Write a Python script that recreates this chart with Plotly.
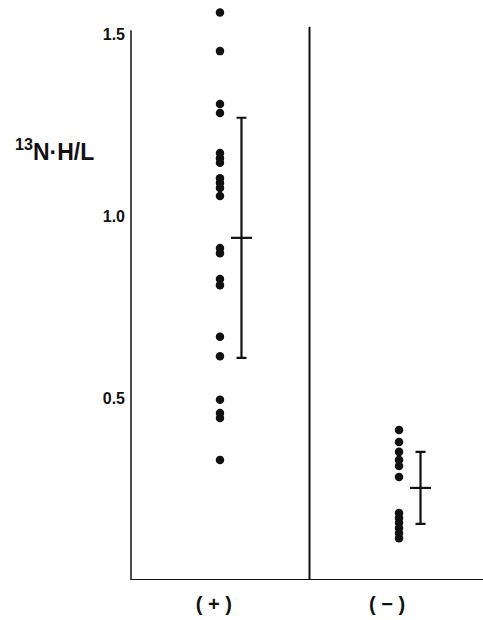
import plotly.graph_objects as go

# ---- data ----
groups = ["( + )", "( − )"]
group_pos = [1, 2]
plus_values = [1.559, 1.453, 1.308, 1.283, 1.173, 1.159, 1.146, 1.104, 1.091,
               1.077, 1.055, 0.912, 0.898, 0.827, 0.810, 0.668, 0.615, 0.495,
               0.459, 0.445, 0.330]
minus_values = [0.412, 0.379, 0.352, 0.330, 0.313, 0.283,
                0.184, 0.170, 0.157, 0.143, 0.129, 0.115]
group_means = [0.94, 0.253]
group_sds = [0.33, 0.099]
y_ticks = [0.5, 1.0, 1.5]
y_tick_labels = ["0.5", "1.0", "1.5"]

INK = "#111111"
FONT = "Liberation Sans, Arial, sans-serif"
err_offset = 0.12

fig = go.Figure()

for pos, vals in zip(group_pos, [plus_values, minus_values]):
    fig.add_trace(go.Scatter(
        x=[pos] * len(vals), y=vals, mode="markers",
        marker=dict(size=8.5, color=INK, line=dict(width=0)),
        showlegend=False, cliponaxis=False, hoverinfo="y"))

fig.add_trace(go.Scatter(
    x=[p + err_offset for p in group_pos], y=group_means, mode="markers",
    marker=dict(symbol="line-ew", size=15, line=dict(width=2.2, color=INK)),
    error_y=dict(type="data", array=group_sds, visible=True,
                 color=INK, thickness=2.2, width=5),
    showlegend=False, cliponaxis=False))

# frame: y axis line, divider, x axis line
fig.add_shape(type="line", xref="paper", yref="y", x0=0, x1=0, y0=0, y1=1.51,
              line=dict(color=INK, width=1.5))
fig.add_shape(type="line", xref="x", yref="y", x0=1.5, x1=1.5, y0=0, y1=1.52,
              line=dict(color=INK, width=2))
fig.add_shape(type="line", xref="paper", yref="y", x0=0, x1=1, y0=0, y1=0,
              line=dict(color=INK, width=2))

fig.add_annotation(
    text="<b><sup>13</sup>N·H/L</b>", xref="paper", yref="paper",
    x=-0.217, y=0.747, xanchor="center", yanchor="middle", showarrow=False,
    font=dict(family=FONT, size=23, color=INK))

fig.update_layout(
    width=483, height=620,
    margin=dict(l=131, r=0, t=5, b=40),
    paper_bgcolor="white", plot_bgcolor="white",
    font=dict(family=FONT, color=INK),
    xaxis=dict(range=[0.503, 2.469], tickvals=[0.966, 1.933],
               ticktext=["<b>%s</b>" % g for g in groups],
               showgrid=False, zeroline=False, showline=False, ticks="",
               ticklabelstandoff=10,
               tickfont=dict(family=FONT, size=20, color=INK)),
    yaxis=dict(range=[0, 1.5797], tickvals=y_ticks,
               ticktext=["<b>%s</b>" % t for t in y_tick_labels],
               showgrid=False, zeroline=False, showline=False, ticks="",
               ticklabelstandoff=5,
               tickfont=dict(family=FONT, size=16, color=INK)),
)

fig.write_html("out.html")
